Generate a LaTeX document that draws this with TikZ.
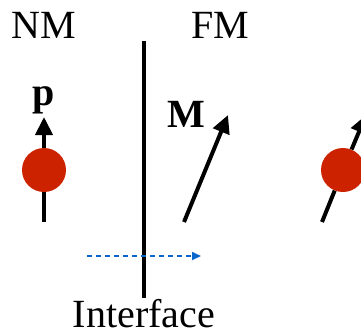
\documentclass[tikz,border=0pt]{standalone}
\usepackage{fontspec}
\setmainfont{Liberation Serif}
\usetikzlibrary{arrows.meta}
\definecolor{spinred}{RGB}{204,34,0}
\definecolor{flowblue}{RGB}{10,102,204}
\begin{document}
\begin{tikzpicture}[x=1bp,y=-1bp,
  lbl/.style={inner sep=0pt,anchor=base,font=\fontsize{40bp}{48bp}\selectfont},
  blbl/.style={lbl,font=\fontsize{40bp}{48bp}\selectfont\bfseries},
  ball/.style={circle,fill=spinred,minimum size=44bp,inner sep=0pt},
  spin/.style={line width=4bp,-{Triangle[length=18bp,width=17bp]}},
  stem/.style={line width=4bp},
  flow/.style={draw=flowblue,line width=1.6bp,dash pattern=on 5bp off 4bp,
    -{Triangle[length=9bp,width=8bp,fill=flowblue]}}]
\useasboundingbox (0,0) rectangle (361,329);
\clip (0,0) rectangle (361,329);
% region labels
\node[lbl] (nm) at (44,38) {NM};
\node[lbl] (fm) at (220,38) {FM};
% interface line and its label
\coordinate (ifTop) at (144,41);
\coordinate (ifBot) at (144,298);
\draw[line width=3.5bp] (ifTop) -- (ifBot);
\node[lbl] (iface) at (144,327) {Interface};
% spin-polarised particle in the normal metal
\node[ball] (e1) at (44,170) {};
\coordinate (p1tip) at (44,117);
\coordinate (p1tail) at (44,222);
\draw[spin] (e1) -- (p1tip);
\draw[stem] (e1) -- (p1tail);
\node[blbl] (plbl) at (44,105) {p};
% magnetisation of the ferromagnet
\coordinate (mtail) at (184,222);
\coordinate (mtip) at (228,115);
\draw[spin] (mtail) -- (mtip);
\node[blbl] (mlbl) at (186,127) {M};
% particle after crossing, aligned with M
\coordinate (q0) at (322,222);
\node[ball] (e2) at (343,170) {};
\coordinate (q1) at (366,115);
\draw[stem] (q0) -- (e2);
\draw[spin] (e2) -- (q1);
% direction of transport
\coordinate (f0) at (87,256);
\coordinate (f1) at (201,256);
\draw[flow] (f0) -- (f1);
\end{tikzpicture}
\end{document}
